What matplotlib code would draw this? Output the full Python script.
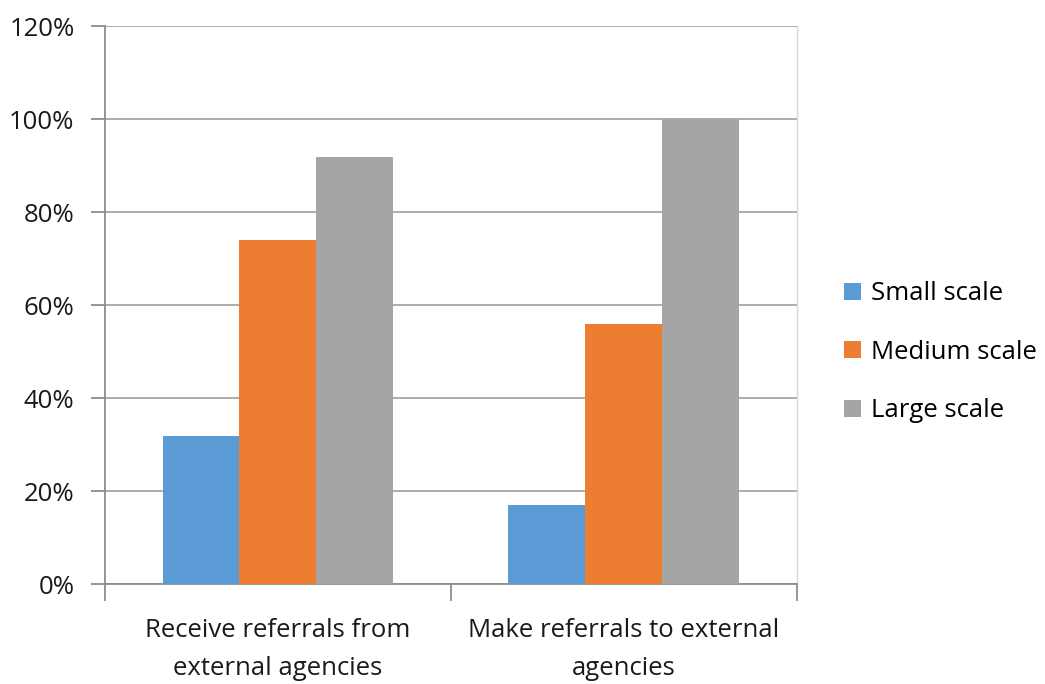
import matplotlib
matplotlib.use("Agg")
import matplotlib.pyplot as plt
from matplotlib.patches import Patch
import numpy as np

categories = ["Receive referrals from\nexternal agencies", "Make referrals to external\nagencies"]
series_names = ["Small scale", "Medium scale", "Large scale"]
small_scale = [32, 17]
medium_scale = [74, 56]
large_scale = [92, 100]
y_ticks = [0, 20, 40, 60, 80, 100, 120]

colors = ["#5B9BD5", "#ED7D31", "#A5A5A5"]
plt.rcParams["font.family"] = ["Open Sans", "DejaVu Sans"]
FS = 18.5

fig = plt.figure(figsize=(10.45, 6.84), dpi=100)
ax = fig.add_axes([0.1005, 0.1458, 0.662, 0.8155])

x = np.arange(len(categories))
w = 0.2225
for i, (vals, c) in enumerate(zip([small_scale, medium_scale, large_scale], colors)):
    ax.bar(x + (i - 1) * w, vals, width=w, color=c, zorder=3)

ax.set_xlim(-0.5, 1.5)
ax.set_ylim(0, 120)
ax.set_yticks(y_ticks)
ax.set_yticklabels([f"{v}%" for v in y_ticks], fontsize=FS, color="#1a1a1a")
ax.yaxis.grid(True, color="#a6a6a6", linewidth=1.3, zorder=0)

ax.set_xticks(x)
ax.set_xticklabels(categories, fontsize=FS, color="#1a1a1a", linespacing=1.7)
ax.set_xticks([-0.5, 0.5, 1.5], minor=True)
ax.tick_params(axis="x", which="major", length=0, pad=24)
ax.tick_params(axis="x", which="minor", length=12, width=1.3, color="#8c8c8c")
ax.tick_params(axis="y", length=10, width=1.3, color="#8c8c8c", pad=12)

ax.spines["top"].set_visible(False)
ax.spines["right"].set_color("#d9d9d9")
ax.spines["right"].set_linewidth(1.0)
ax.spines["left"].set_color("#8c8c8c")
ax.spines["bottom"].set_color("#8c8c8c")
ax.spines["left"].set_linewidth(1.3)
ax.spines["bottom"].set_linewidth(1.3)

handles = [Patch(facecolor=c, label=n) for c, n in zip(colors, series_names)]
fig.legend(handles=handles, loc="center left", bbox_to_anchor=(0.786, 0.485),
           frameon=False, fontsize=FS, handlelength=0.65, handleheight=0.65,
           handletextpad=0.4, labelspacing=1.3)

fig.savefig("out.png", dpi=100)
